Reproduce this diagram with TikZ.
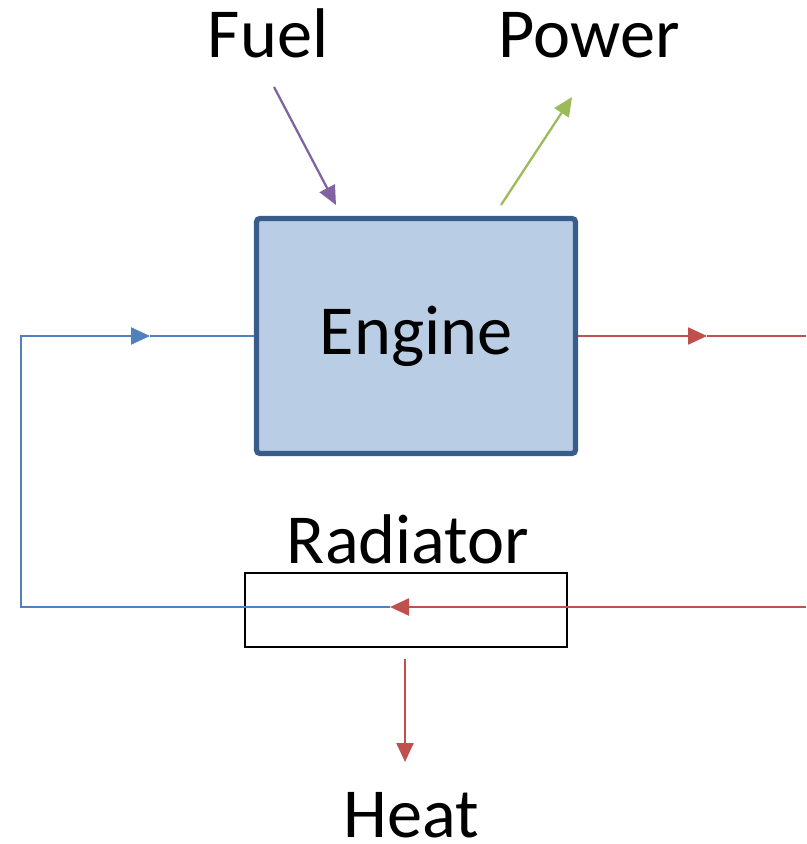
\documentclass[tikz,border=0pt]{standalone}
\usepackage{fontspec}
\setmainfont{Carlito}
\definecolor{engfill}{HTML}{B9CDE5}
\definecolor{engdraw}{HTML}{385D8A}
\definecolor{coolblue}{HTML}{4F81BD}
\definecolor{hotred}{HTML}{C0504D}
\definecolor{fuelpurple}{HTML}{8064A2}
\definecolor{powergreen}{HTML}{9BBB59}
\newcommand{\bigtxt}{\fontsize{20}{24}\selectfont}
\usetikzlibrary{arrows.meta}

\begin{document}
\begin{tikzpicture}[
  enginebox/.style={
    rectangle, rounded corners=1pt,
    draw=engdraw, line width=1.5pt,
    fill=engfill,
    minimum width=3.19cm, minimum height=2.35cm,
    font=\bigtxt
  },
  radbox/.style={
    rectangle, draw=black, line width=0.65pt,
    minimum width=3.22cm, minimum height=0.74cm
  },
  caption/.style={font=\bigtxt, anchor=base, text depth=0pt, inner sep=1pt},
  flow/.style={-{Triangle[length=1.9mm,width=1.7mm]}, line width=0.65pt},
  tail/.style={line width=0.45pt}
]
\useasboundingbox (0,0) rectangle (8.06,-8.44);

\node[enginebox] (engine) at (4.16,-3.36) {\raisebox{-0.7mm}{Engine}};
\node[radbox] (rad) at (4.06,-6.10) {};

\node[caption] (fuel)     at (2.68,-0.58) {Fuel};
\node[caption] (power)    at (5.89,-0.58) {Power};
\node[caption] (radlabel) at (4.08,-5.63) {Radiator};
\node[caption] (heat)     at (4.11,-8.37) {Heat};

\coordinate (fuelin)   at (2.74,-0.87);
\coordinate (fuelend)  at (3.36,-2.05);
\coordinate (powout)   at (5.01,-2.05);
\coordinate (powend)   at (5.72,-0.97);
\coordinate (radmid)   at (3.90,-6.07);
\coordinate (lowleft)  at (0.21,-6.07);
\coordinate (upleft)   at (0.21,-3.36);
\coordinate (inarr)    at (1.50,-3.36);
\coordinate (outarr)   at (7.07,-3.36);
\coordinate (outedge)  at (8.06,-3.36);
\coordinate (inedge)   at (8.06,-6.07);
\coordinate (heatout)  at (4.05,-6.59);
\coordinate (heatend)  at (4.05,-7.62);

\draw[flow, draw=fuelpurple] (fuelin) -- (fuelend);
\draw[flow, draw=powergreen] (powout) -- (powend);

% coolant loop
\draw[flow, draw=coolblue] (radmid) -- (lowleft) -- (upleft) -- (inarr);
\draw[tail, draw=coolblue] (inarr) -- (engine.west);
\draw[flow, draw=hotred] (engine.east) -- (outarr);
\draw[tail, draw=hotred] (outarr) -- (outedge);
\draw[flow, draw=hotred] (inedge) -- (radmid);

\draw[flow, draw=hotred] (heatout) -- (heatend);
\end{tikzpicture}
\end{document}
